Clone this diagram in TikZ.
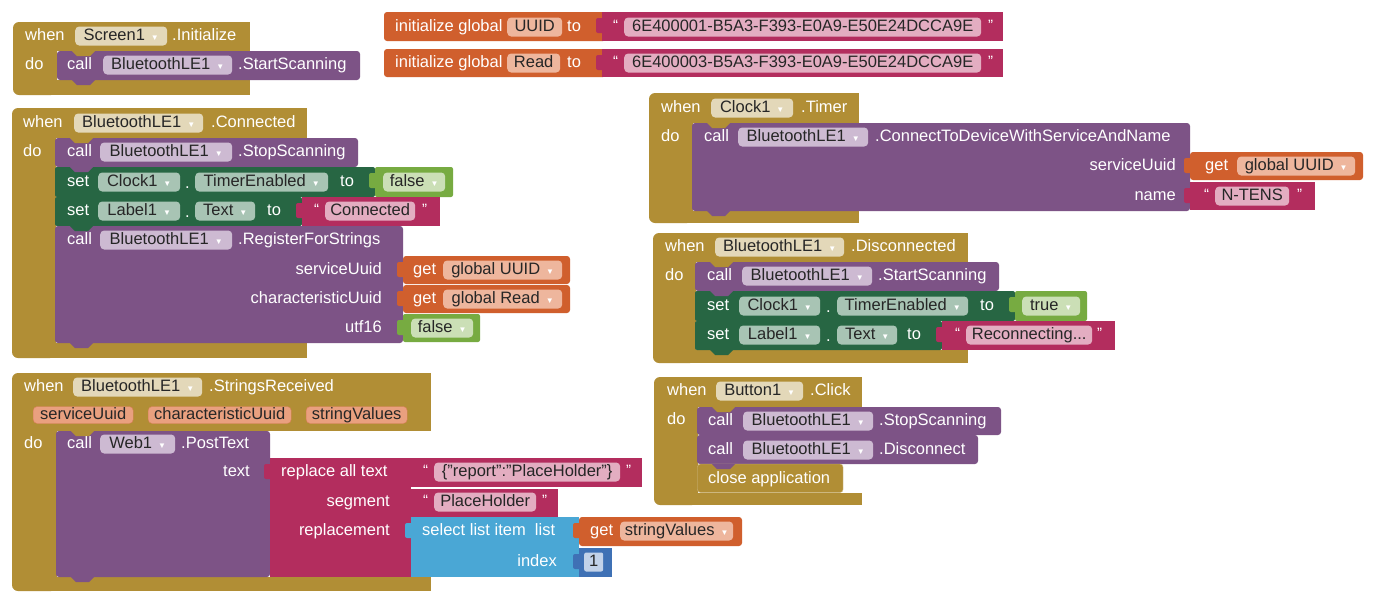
\documentclass[tikz,border=0pt]{standalone}
\usepackage{fontspec}
\setmainfont{Liberation Sans}
\usetikzlibrary{positioning}
\definecolor{evtgold}{HTML}{B18E35}
\definecolor{evtfield}{HTML}{E3D8B9}
\definecolor{procpurple}{HTML}{7D5386}
\definecolor{procfield}{HTML}{CDBAD2}
\definecolor{setgreen}{HTML}{276643}
\definecolor{setfield}{HTML}{A8C4B4}
\definecolor{boolgreen}{HTML}{77AB41}
\definecolor{boolfield}{HTML}{CBDFB6}
\definecolor{txtred}{HTML}{B32D5E}
\definecolor{txtfield}{HTML}{E3ADC1}
\definecolor{varorange}{HTML}{D05F2D}
\definecolor{varfield}{HTML}{EEB69D}
\definecolor{parfill}{HTML}{E9A07F}
\definecolor{listblue}{HTML}{4AA7D5}
\definecolor{mathblue}{HTML}{3F71B5}
\definecolor{mathfield}{HTML}{C2D2E9}
\newcommand{\ddarr}{\hspace{6pt}{\fontsize{8}{8}\selectfont\color{white}▼}}
\newcommand{\nubtab}[3]{\fill[#3] (#1+15,#2) -- ++(5,5) -- ++(13,0) -- ++(5,-5) -- cycle;}
\newcommand{\sockbump}[3]{\fill[#3, rounded corners=2pt] (#1-6,#2+6) rectangle (#1+2,#2+21);}
\tikzset{
  blk/evt/.style={fill=evtgold},
  blk/proc/.style={fill=procpurple, rounded corners=3pt},
  blk/set/.style={fill=setgreen, rounded corners=2pt},
  blk/bool/.style={fill=boolgreen, rounded corners=2pt},
  blk/txt/.style={fill=txtred},
  blk/var/.style={fill=varorange, rounded corners=3pt},
  blk/list/.style={fill=listblue},
  blk/math/.style={fill=mathblue},
  lbl/.style={text=white, inner sep=0pt, anchor=west, text height=12pt, text depth=3.5pt},
  lblr/.style={lbl, anchor=east},
  qt/.style={lbl, font=\fontsize{15}{15}\selectfont},
  fld/.style={rounded corners=4pt, inner xsep=3pt, inner ysep=0pt, minimum height=19pt,
    text height=12pt, text depth=3.5pt, anchor=west, text=black!85},
  fld/evt/.style={fld, fill=evtfield},
  fld/proc/.style={fld, fill=procfield},
  fld/set/.style={fld, fill=setfield},
  fld/bool/.style={fld, fill=boolfield},
  fld/txt/.style={fld, fill=txtfield},
  fld/var/.style={fld, fill=varfield},
  fld/par/.style={fld, fill=parfill, draw=varorange!80, minimum height=17pt},
  fld/math/.style={fld, fill=mathfield, rounded corners=2pt}
}
\begin{document}
\begin{tikzpicture}[x=1pt, y=-1pt, font=\fontsize{16.5}{19}\selectfont]
\useasboundingbox[fill=white] (0,0) rectangle (1374,603);

% when Screen1.Initialize
\fill[blk/evt, rounded corners=6pt] (13,22) rectangle (57,95);
\fill[blk/evt] (20,22) rectangle (250,51);
\fill[blk/evt] (20,80) rectangle (250,95);
\fill[blk/proc] (57,51) rectangle (360,80);
\nubtab{57}{51}{evtgold}
\nubtab{57}{80}{procpurple}
\node[lbl] (initwhen) at (25,36) {when};
\node[fld/evt, minimum width=92pt] (initscr) at (75,36) {Screen1\ddarr};
\node[lbl] (initev) at (172,36) {.Initialize};
\node[lbl] (initdo) at (25,65) {do};
\node[lbl] (initcall) at (67,65) {call};
\node[fld/proc, minimum width=129pt] (initble) at (103,65) {BluetoothLE1\ddarr};
\node[lbl] (initscan) at (238,65) {.StartScanning};

% globals
\fill[blk/var] (384,12) rectangle (606,41);
\fill[blk/txt] (602,12) rectangle (1003,41);
\sockbump{602}{12}{txtred}
\node[lbl] (guuid) at (395,27) {initialize global};
\node[fld/var, minimum width=55pt] (guuidname) at (507,27) {UUID};
\node[lbl] (guuidto) at (567,27) {to};
\node[qt] (guuidq1) at (613,26) {“};
\node[fld/txt, minimum width=357pt] (guuidval) at (624,27) {6E400001-B5A3-F393-E0A9-E50E24DCCA9E};
\node[qt] (guuidq2) at (988,26) {”};
\fill[blk/var] (384,49) rectangle (606,77);
\fill[blk/txt] (602,49) rectangle (1003,77);
\sockbump{602}{49}{txtred}
\node[lbl] (gread) at (395,63) {initialize global};
\node[fld/var, minimum width=53pt] (greadname) at (507,63) {Read};
\node[lbl] (greadto) at (567,63) {to};
\node[qt] (greadq1) at (613,62) {“};
\node[fld/txt, minimum width=357pt] (greadval) at (624,63) {6E400003-B5A3-F393-E0A9-E50E24DCCA9E};
\node[qt] (greadq2) at (988,62) {”};

% when BluetoothLE1.Connected
\fill[blk/evt, rounded corners=6pt] (12,108) rectangle (56,358);
\fill[blk/evt] (20,108) rectangle (307,138);
\fill[blk/evt] (20,343) rectangle (307,358);
\fill[blk/proc] (55,138) rectangle (358,167);
\fill[blk/set] (55,167) rectangle (375,197);
\fill[blk/bool] (375,167) rectangle (453,197);
\sockbump{375}{167}{boolgreen}
\fill[blk/set] (55,197) rectangle (302,226);
\fill[blk/txt] (302,197) rectangle (440,226);
\sockbump{302}{197}{txtred}
\fill[blk/proc] (55,226) rectangle (403,343);
\fill[blk/var] (403,256) rectangle (570,284);
\sockbump{403}{256}{varorange}
\fill[blk/var] (403,285) rectangle (570,313);
\sockbump{403}{285}{varorange}
\fill[blk/bool] (403,314) rectangle (480,342);
\sockbump{403}{314}{boolgreen}
\nubtab{55}{138}{evtgold}
\nubtab{55}{167}{procpurple}
\nubtab{55}{197}{setgreen}
\nubtab{55}{226}{setgreen}
\nubtab{55}{343}{procpurple}
\node[lbl] (conwhen) at (23,123) {when};
\node[fld/evt, minimum width=129pt] (conble) at (74,123) {BluetoothLE1\ddarr};
\node[lbl] (conev) at (211,123) {.Connected};
\node[lbl] (condo) at (23,152) {do};
\node[lbl] (concall1) at (67,152) {call};
\node[fld/proc, minimum width=132pt] (conble1) at (100,152) {BluetoothLE1\ddarr};
\node[lbl] (constop) at (238,152) {.StopScanning};
\node[lbl] (conset1) at (67,182) {set};
\node[fld/set, minimum width=82pt] (conclk) at (98,182) {Clock1\ddarr};
\node[lbl] (condot1) at (185,184) {.};
\node[fld/set, minimum width=133pt] (contmr) at (195,182) {TimerEnabled\ddarr};
\node[lbl] (conto1) at (340,182) {to};
\node[fld/bool, minimum width=62pt] (confalse1) at (383,182) {false\ddarr};
\node[lbl] (conset2) at (67,211) {set};
\node[fld/set, minimum width=82pt] (conlbl) at (98,211) {Label1\ddarr};
\node[lbl] (condot2) at (185,213) {.};
\node[fld/set, minimum width=60pt] (contxt) at (195,211) {Text\ddarr};
\node[lbl] (conto2) at (267,211) {to};
\node[qt] (conq1) at (314,210) {“};
\node[fld/txt, minimum width=90pt] (conval) at (325,211) {Connected};
\node[qt] (conq2) at (422,210) {”};
\node[lbl] (concall2) at (67,240) {call};
\node[fld/proc, minimum width=132pt] (conble2) at (100,240) {BluetoothLE1\ddarr};
\node[lbl] (conreg) at (238,240) {.RegisterForStrings};
\node[lblr] (conarg1) at (382,270) {serviceUuid};
\node[lblr] (conarg2) at (382,299) {characteristicUuid};
\node[lblr] (conarg3) at (382,328) {utf16};
\node[lbl] (conget1) at (413,270) {get};
\node[fld/var, minimum width=119pt] (congv1) at (443,270) {global UUID\ddarr};
\node[lbl] (conget2) at (413,299) {get};
\node[fld/var, minimum width=119pt] (congv2) at (443,299) {global Read\ddarr};
\node[fld/bool, minimum width=62pt] (confalse2) at (411,328) {false\ddarr};

% when Clock1.Timer
\fill[blk/evt, rounded corners=6pt] (649,93) rectangle (693,223);
\fill[blk/evt] (656,93) rectangle (859,123);
\fill[blk/evt] (656,211) rectangle (859,223);
\fill[blk/proc] (692,123) rectangle (1190,211);
\fill[blk/var] (1190,152) rectangle (1363,180);
\sockbump{1190}{152}{varorange}
\fill[blk/txt] (1190,182) rectangle (1315,210);
\sockbump{1190}{182}{txtred}
\nubtab{692}{123}{evtgold}
\nubtab{692}{211}{procpurple}
\node[lbl] (tmrwhen) at (661,108) {when};
\node[fld/evt, minimum width=82pt] (tmrclk) at (711,108) {Clock1\ddarr};
\node[lbl] (tmrev) at (801,108) {.Timer};
\node[lbl] (tmrdo) at (661,137) {do};
\node[lbl] (tmrcall) at (704,137) {call};
\node[fld/proc, minimum width=130pt] (tmrble) at (738,137) {BluetoothLE1\ddarr};
\node[lbl] (tmrconn) at (875,137) {.ConnectToDeviceWithServiceAndName};
\node[lblr] (tmrarg1) at (1176,166) {serviceUuid};
\node[lblr] (tmrarg2) at (1176,196) {name};
\node[lbl] (tmrget) at (1205,166) {get};
\node[fld/var, minimum width=118pt] (tmrgv) at (1237,166) {global UUID\ddarr};
\node[qt] (tmrq1) at (1204,195) {“};
\node[fld/txt, minimum width=74pt] (tmrname) at (1215,196) {N-TENS};
\node[qt] (tmrq2) at (1297,195) {”};

% when BluetoothLE1.Disconnected
\fill[blk/evt, rounded corners=6pt] (653,233) rectangle (696,363);
\fill[blk/evt] (660,233) rectangle (968,262);
\fill[blk/evt] (660,350) rectangle (968,363);
\fill[blk/proc] (695,262) rectangle (999,291);
\fill[blk/set] (695,291) rectangle (1015,321);
\fill[blk/bool] (1015,291) rectangle (1087,321);
\sockbump{1015}{291}{boolgreen}
\fill[blk/set] (695,321) rectangle (942,350);
\fill[blk/txt] (942,321) rectangle (1115,350);
\sockbump{942}{321}{txtred}
\nubtab{695}{262}{evtgold}
\nubtab{695}{291}{procpurple}
\nubtab{695}{321}{setgreen}
\nubtab{695}{350}{setgreen}
\node[lbl] (diswhen) at (665,247) {when};
\node[fld/evt, minimum width=129pt] (disble) at (715,247) {BluetoothLE1\ddarr};
\node[lbl] (disev) at (851,247) {.Disconnected};
\node[lbl] (disdo) at (665,276) {do};
\node[lbl] (discall) at (707,276) {call};
\node[fld/proc, minimum width=130pt] (disble1) at (742,276) {BluetoothLE1\ddarr};
\node[lbl] (disscan) at (878,276) {.StartScanning};
\node[lbl] (disset1) at (707,306) {set};
\node[fld/set, minimum width=81pt] (disclk) at (739,306) {Clock1\ddarr};
\node[lbl] (disdot1) at (826,308) {.};
\node[fld/set, minimum width=131pt] (distmr) at (837,306) {TimerEnabled\ddarr};
\node[lbl] (disto1) at (980,306) {to};
\node[fld/bool, minimum width=58pt] (distrue) at (1022,306) {true\ddarr};
\node[lbl] (disset2) at (707,335) {set};
\node[fld/set, minimum width=81pt] (dislbl) at (739,335) {Label1\ddarr};
\node[lbl] (disdot2) at (826,337) {.};
\node[fld/set, minimum width=60pt] (distxt) at (837,335) {Text\ddarr};
\node[lbl] (disto2) at (907,335) {to};
\node[qt] (disq1) at (955,334) {“};
\node[fld/txt, minimum width=126pt] (disval) at (966,335) {Reconnecting...};
\node[qt] (disq2) at (1097,334) {”};

% when Button1.Click
\fill[blk/evt, rounded corners=6pt] (654,377) rectangle (698,505);
\fill[blk/evt] (661,377) rectangle (862,407);
\fill[blk/evt] (661,493) rectangle (862,505);
\fill[blk/proc] (697,407) rectangle (1001,435);
\fill[blk/proc] (697,435) rectangle (978,464);
\filldraw[blk/evt, draw=evtgold!60!white, rounded corners=3pt] (697.5,464) rectangle (843,492.5);
\nubtab{697}{407}{evtgold}
\nubtab{697}{435}{procpurple}
\nubtab{697}{464}{procpurple}
\nubtab{697}{493}{evtgold}
\node[lbl] (clkwhen) at (667,391) {when};
\node[fld/evt, minimum width=87pt] (clkbtn) at (716,391) {Button1\ddarr};
\node[lbl] (clkev) at (810,391) {.Click};
\node[lbl] (clkdo) at (667,420) {do};
\node[lbl] (clkcall1) at (708,421) {call};
\node[fld/proc, minimum width=130pt] (clkble1) at (743,421) {BluetoothLE1\ddarr};
\node[lbl] (clkstop) at (879,421) {.StopScanning};
\node[lbl] (clkcall2) at (708,450) {call};
\node[fld/proc, minimum width=130pt] (clkble2) at (743,450) {BluetoothLE1\ddarr};
\node[lbl] (clkdisc) at (879,450) {.Disconnect};
\node[lbl] (clkclose) at (708,479) {close application};

% when BluetoothLE1.StringsReceived
\fill[blk/evt, rounded corners=6pt] (12,373) rectangle (57,591);
\fill[blk/evt] (20,373) rectangle (431,431);
\fill[blk/evt] (20,577) rectangle (431,591);
\fill[blk/proc] (56,431) rectangle (270,577);
\fill[blk/txt] (270,458) rectangle (411,577);
\sockbump{270}{458}{txtred}
\fill[blk/txt] (411,458) rectangle (642,487);
\sockbump{411}{458}{txtred}
\fill[blk/txt] (411,489) rectangle (558,517);
\sockbump{411}{489}{txtred}
\fill[blk/list] (411,517) rectangle (579,577);
\sockbump{411}{517}{listblue}
\fill[blk/var] (579,517) rectangle (742,546);
\sockbump{579}{517}{varorange}
\fill[blk/math] (579,548) rectangle (612,577);
\sockbump{579}{548}{mathblue}
\nubtab{56}{431}{evtgold}
\nubtab{56}{577}{procpurple}
\node[lbl] (rcvwhen) at (24,387) {when};
\node[fld/evt, minimum width=129pt] (rcvble) at (73,387) {BluetoothLE1\ddarr};
\node[lbl] (rcvev) at (209,387) {.StringsReceived};
\node[fld/par, minimum width=100pt] (rcvpar1) at (33,415) {serviceUuid};
\node[fld/par, minimum width=143pt] (rcvpar2) at (148,415) {characteristicUuid};
\node[fld/par, minimum width=101pt] (rcvpar3) at (306,415) {stringValues};
\node[lbl] (rcvdo) at (24,444) {do};
\node[lbl] (rcvcall) at (67,444) {call};
\node[fld/proc, minimum width=75pt] (rcvweb) at (100,444) {Web1\ddarr};
\node[lbl] (rcvpost) at (181,444) {.PostText};
\node[lblr] (rcvarg) at (250,472) {text};
\node[lbl] (rcvrepl) at (281,472) {replace all text};
\node[lblr] (rcvseg) at (390,502) {segment};
\node[lblr] (rcvrep) at (390,531) {replacement};
\node[qt] (rcvq1) at (423,471) {“};
\node[fld/txt, minimum width=186pt] (rcvjson) at (434,472) {\{"report":"PlaceHolder"\}};
\node[qt] (rcvq2) at (626,471) {”};
\node[qt] (rcvq3) at (423,501) {“};
\node[fld/txt, minimum width=102pt] (rcvph) at (434,502) {PlaceHolder};
\node[qt] (rcvq4) at (542,501) {”};
\node[lbl] (rcvsel) at (422,531) {select list item\ \ list};
\node[lblr] (rcvidx) at (557,562) {index};
\node[lbl] (rcvget) at (590,531) {get};
\node[fld/var, minimum width=113pt] (rcvsv) at (620,531) {stringValues\ddarr};
\node[fld/math, minimum width=19pt] (rcvone) at (584,562) {1};
\end{tikzpicture}
\end{document}
